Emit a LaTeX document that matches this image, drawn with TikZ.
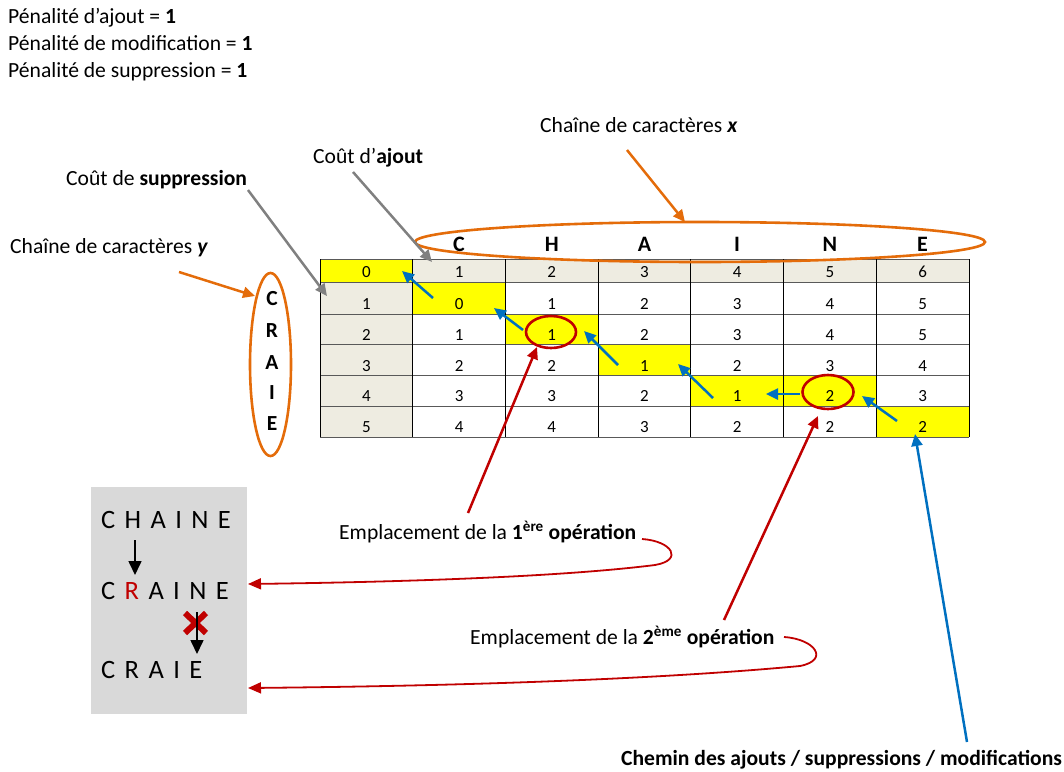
\documentclass[tikz,border=0pt]{standalone}
\usepackage{fontspec}
\setmainfont{Carlito}
\usetikzlibrary{arrows.meta}
\definecolor{orng}{HTML}{E46C0A}
\definecolor{blu}{HTML}{0070C0}
\definecolor{rd}{HTML}{C00000}
\definecolor{gry}{HTML}{808080}
\definecolor{hdr}{HTML}{EEECE1}
\definecolor{boxgray}{HTML}{D9D9D9}
\definecolor{ylw}{HTML}{FFFF00}
\newcommand\gp{\kern9.4pt}
\begin{document}
\begin{tikzpicture}[x=1pt,y=-1pt,
  lbl/.style={font=\fontsize{21.6}{25}\selectfont, inner sep=0pt, anchor=base west},
  num/.style={font=\fontsize{17}{20}\selectfont, inner sep=0pt, anchor=base},
  hd/.style={font=\bfseries\fontsize{22}{26}\selectfont, inner sep=0pt, anchor=base},
  vl/.style={font=\bfseries\fontsize{21.5}{25}\selectfont, inner sep=0pt, anchor=base},
  big/.style={font=\fontsize{26.5}{30}\selectfont, inner sep=0pt, anchor=base west},
  arr/.style={line width=2.5pt, -{Triangle[length=12pt,width=11pt]}},
  carr/.style={line width=1.8pt, rd, -{Triangle[length=13pt,width=11pt]}},
  barr/.style={line width=1.6pt, black, -{Triangle[length=14pt,width=13pt]}},
  ring/.style={line width=2.6pt}
]
\useasboundingbox (0,0) rectangle (1064,771);

% penalties
\node[lbl] (p1) at (8,23.5) {Pénalité d’ajout = \textbf{1}};
\node[lbl] (p2) at (8,50.5) {Pénalité de modification = \textbf{1}};
\node[lbl] (p3) at (8,77.5) {Pénalité de suppression = \textbf{1}};

% labels
\node[lbl] (lx) at (540,132) {Chaîne de caractères \textbf{\textit{x}}};
\node[lbl] (la) at (313,163) {Coût d’\textbf{ajout}};
\node[lbl] (ls) at (66,185) {Coût de \textbf{suppression}};
\node[lbl] (ly) at (10,253) {Chaîne de caractères \textbf{\textit{y}}};
\node[lbl] (op1) at (339,539) {Emplacement de la \textbf{1\textsuperscript{ère} opération}};
\node[lbl] (op2) at (470,644) {Emplacement de la \textbf{2\textsuperscript{ème} opération}};
\node[lbl] (chem) at (621,765) {\textbf{Chemin des ajouts / suppressions / modifications}};

% table fills
\fill[hdr] (412.7,259) rectangle (969,282);
\fill[hdr] (320,282) rectangle (412.7,437);
\fill[ylw] (320,259) rectangle (412.7,282);
\fill[ylw] (412.7,282) rectangle (505.4,314);
\fill[ylw] (505.4,314) rectangle (598.1,344.5);
\fill[ylw] (598.1,344.5) rectangle (690.8,375.5);
\fill[ylw] (690.8,375.5) rectangle (876.2,406);
\fill[ylw] (876.2,406) rectangle (969,437);

% grid
\foreach \yy in {259,282,314,344.5,375.5,406,437}
  \draw[line width=1pt, black!65] (320,\yy) -- (969,\yy);
\foreach \c in {0,...,7}
  \draw[line width=0.8pt, black] ({320+92.7*\c},259) -- ({320+92.7*\c},437);

% numbers
\foreach \r/\yb/\vals in {0/282/{0,1,2,3,4,5,6},1/314/{1,0,1,2,3,4,5},2/344.5/{2,1,1,2,3,4,5},3/375.5/{3,2,2,1,2,3,4},4/406/{4,3,3,2,1,2,3},5/437/{5,4,4,3,2,2,2}}
  \foreach \v [count=\c from 0] in \vals
    \node[num] (n\r\c) at ({366.35+92.7*\c},{\yb-4.5}) {\v};

% header letters
\foreach \l [count=\c] in {C,H,A,I,N,E}
  \node[hd] (h\c) at ({366.35+92.7*\c},251.5) {\l};

% vertical letters
\foreach \l/\yy [count=\k] in {C/305,R/337,A/369,I/399,E/430}
  \node[vl] (v\k) at (272,\yy) {\l};

% ellipses
\draw[orng, ring] (700,242) ellipse [x radius=285, y radius=20];
\draw[orng, ring] (270.5,364.5) ellipse [x radius=20.5, y radius=91.5];
\draw[rd, ring] (551,332) ellipse [x radius=25, y radius=16];
\draw[rd, ring] (828,392) ellipse [x radius=25.5, y radius=17];

% coordinates for connectors
\coordinate (ox1) at (627,150); \coordinate (ox2) at (685,222);
\coordinate (oy1) at (179,272); \coordinate (oy2) at (255,296);
\coordinate (ga1) at (353,172); \coordinate (ga2) at (432,262);
\coordinate (gs1) at (248,190); \coordinate (gs2) at (327,296);
\coordinate (b1s) at (433,298); \coordinate (b1e) at (402,271);
\coordinate (b2s) at (523,330); \coordinate (b2e) at (494,308);
\coordinate (b3s) at (618,365); \coordinate (b3e) at (584,331);
\coordinate (b4s) at (713,398); \coordinate (b4e) at (678,364);
\coordinate (b5s) at (800,394); \coordinate (b5e) at (766,394);
\coordinate (b6s) at (897,421); \coordinate (b6e) at (862,396);
\coordinate (b7s) at (967,742); \coordinate (b7e) at (915,434);
\coordinate (r1s) at (468,513); \coordinate (r1e) at (537,347);
\coordinate (r2s) at (724,620); \coordinate (r2e) at (818,416);
\coordinate (c1s) at (642,539); \coordinate (c1e) at (248,584);
\coordinate (c2s) at (784,637); \coordinate (c2e) at (248,688);

% arrows
\draw[arr, orng] (ox1) -- (ox2);
\draw[arr, orng] (oy1) -- (oy2);
\draw[arr, gry] (ga1) -- (ga2);
\draw[arr, gry] (gs1) -- (gs2);
\foreach \k in {1,...,7}
  \draw[arr, blu] (b\k s) -- (b\k e);
\draw[arr, rd] (r1s) -- (r1e);
\draw[arr, rd] (r2s) -- (r2e);
\draw[carr] (c1s) .. controls (672,541) and (684,560) .. (655,565)
  .. controls (560,577) and (400,582) .. (c1e);
\draw[carr] (c2s) .. controls (815,639) and (830,660) .. (800,666)
  .. controls (650,680) and (450,686) .. (c2e);

% grey box
\fill[boxgray] (91,487) rectangle (247,714);
\node[big] (w1) at (101,528.5) {C\gp H\gp A\gp I\gp N\gp E};
\node[big] (w2) at (101,599) {C\gp\textcolor{rd}{R}\gp A\gp I\gp N\gp E};
\node[big] (w3) at (101,678) {C\gp R\gp A\gp I\gp E};
\coordinate (a1s) at (135,540); \coordinate (a1e) at (135,575);
\coordinate (a2s) at (197,612); \coordinate (a2e) at (197,654);
\draw[barr] (a1s) -- (a1e);
\draw[rd, line width=6pt] (185,613) -- (206,633) (185,633) -- (206,613);
\draw[barr] (a2s) -- (a2e);
\end{tikzpicture}
\end{document}
